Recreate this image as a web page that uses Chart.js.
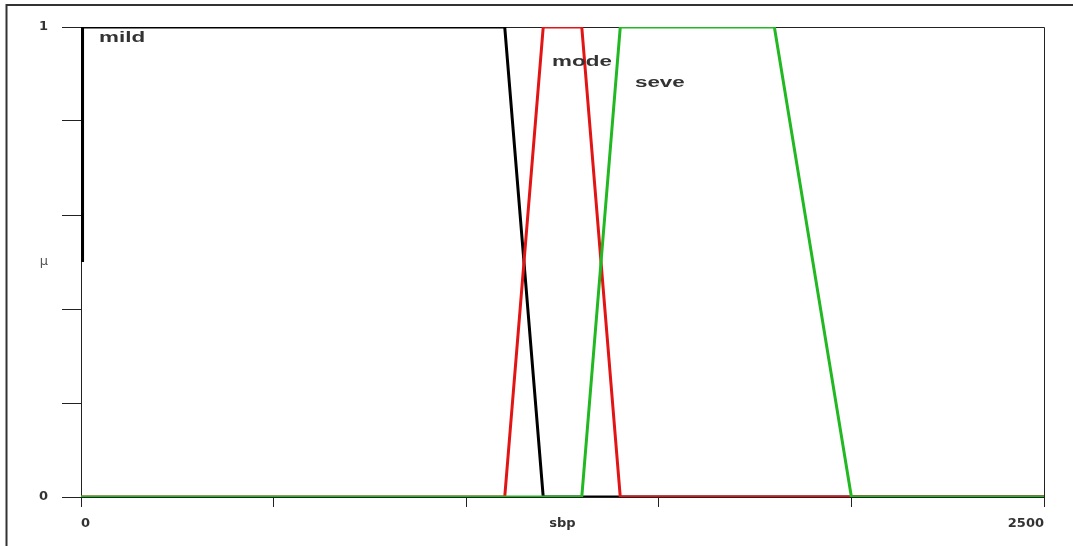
<!DOCTYPE html>
<html><head><meta charset="utf-8">
<script src="https://cdn.jsdelivr.net/npm/chart.js@4"></script>
<style>html,body{margin:0;padding:0;background:#fff}canvas{display:block}</style>
</head><body>
<canvas id="c" width="1073" height="546"></canvas>
<script>
// ---- data ----
const xMin = 0, xMax = 2500;
const mildX = [4, 4, 1100, 1200, 2500];
const mildY = [0.5, 1, 1, 0, 0];
const modeX = [0, 1100, 1200, 1300, 1400, 2500];
const modeY = [0, 0, 1, 1, 0, 0];
const seveX = [0, 1300, 1400, 1800, 2000, 2500];
const seveY = [0, 0, 1, 1, 0, 0];
const xTickValues = [0, 500, 1000, 1250, 1500, 2000, 2500];
const xTickLabels = ['0', '', '', 'sbp', '', '', '2500'];
const yTickValues = [0, 0.2, 0.4, 0.5, 0.6, 0.8, 1];
const yTickLabels = ['0', '', '', 'μ', '', '', '1'];
const setNames = ['mild', 'mode', 'seve'];
const setLabelX = [47, 1223, 1438];
const setLabelY = [0.968, 0.917, 0.872];

const pts = (xs, ys) => xs.map((x, i) => ({x: x, y: ys[i]}));

const framePlugin = {
  id: 'frame',
  beforeDraw(chart) {
    const ctx = chart.ctx;
    ctx.save();
    ctx.strokeStyle = '#333';
    ctx.lineWidth = 2;
    ctx.beginPath();
    ctx.moveTo(6.5, 546);
    ctx.lineTo(6.5, 5);
    ctx.lineTo(1073, 5);
    ctx.stroke();
    ctx.restore();
  },
  beforeDatasetsDraw(chart) {
    const a = chart.chartArea, ctx = chart.ctx;
    ctx.save();
    ctx.strokeStyle = '#222';
    ctx.lineWidth = 1;
    ctx.beginPath();
    ctx.moveTo(a.left, a.top + 0.5);
    ctx.lineTo(a.right + 0.5, a.top + 0.5);
    ctx.lineTo(a.right + 0.5, a.bottom);
    ctx.stroke();
    ctx.restore();
  },
  afterDatasetsDraw(chart) {
    const ctx = chart.ctx, xs = chart.scales.x, ys = chart.scales.y;
    ctx.save();
    ctx.font = 'bold 14px "Liberation Sans", Arial, sans-serif';
    ctx.fillStyle = '#333';
    ctx.textBaseline = 'alphabetic';
    ctx.textAlign = 'left';
    setNames.forEach((t, i) => {
      const px = xs.getPixelForValue(setLabelX[i]);
      const py = ys.getPixelForValue(setLabelY[i]);
      ctx.save();
      ctx.translate(px, py);
      ctx.scale(1.6, 1);
      ctx.fillText(t, 0, 0);
      ctx.restore();
    });
    ctx.restore();
  }
};

const tickColor = '#222';
const tickFont = {family: '"DejaVu Sans", sans-serif', size: 13, weight: 'bold'};

new Chart(document.getElementById('c'), {
  type: 'line',
  data: {
    datasets: [
      {label: 'mild', data: pts(mildX, mildY), borderColor: '#000', order: 3},
      {label: 'mode', data: pts(modeX, modeY), borderColor: '#e31414', order: 2},
      {label: 'seve', data: pts(seveX, seveY), borderColor: '#22b822', order: 1}
    ]
  },
  options: {
    responsive: false,
    animation: false,
    events: [],
    layout: {padding: {top: 27, right: 29, left: 0, bottom: 0}},
    datasets: {line: {borderWidth: 3, pointRadius: 0, tension: 0, fill: false}},
    plugins: {legend: {display: false}, tooltip: {enabled: false}},
    scales: {
      x: {
        type: 'linear', min: xMin, max: xMax,
        afterBuildTicks: s => { s.ticks = xTickValues.map(v => ({value: v})); },
        afterFit: s => { s.height = 49; },
        ticks: {
          autoSkip: false, maxRotation: 0, minRotation: 0, align: 'inner', padding: 9,
          color: '#333',
          font: tickFont,
          callback: v => xTickLabels[xTickValues.indexOf(v)] || ''
        },
        grid: {
          drawOnChartArea: false, drawTicks: true, tickLength: 10, lineWidth: 1,
          color: c => (c.tick && c.tick.value === 1250) ? 'rgba(0,0,0,0)' : tickColor
        },
        border: {display: true, color: tickColor, width: 1}
      },
      y: {
        type: 'linear', min: 0, max: 1,
        afterBuildTicks: s => { s.ticks = yTickValues.map(v => ({value: v})); },
        afterFit: s => { s.width = 81; },
        ticks: {
          autoSkip: false, padding: 14,
          color: c => (c.tick && c.tick.value === 0.5) ? '#555' : '#333',
          font: c => (c.tick && c.tick.value === 0.5)
            ? {family: '"DejaVu Sans", sans-serif', size: 13, weight: 'normal'}
            : tickFont,
          callback: v => yTickLabels[yTickValues.indexOf(v)] || ''
        },
        grid: {
          drawOnChartArea: false, drawTicks: true, tickLength: 19, lineWidth: 1,
          color: c => (c.tick && c.tick.value === 0.5) ? 'rgba(0,0,0,0)' : tickColor
        },
        border: {display: true, color: tickColor, width: 1}
      }
    }
  },
  plugins: [framePlugin]
});
</script>
</body></html>
